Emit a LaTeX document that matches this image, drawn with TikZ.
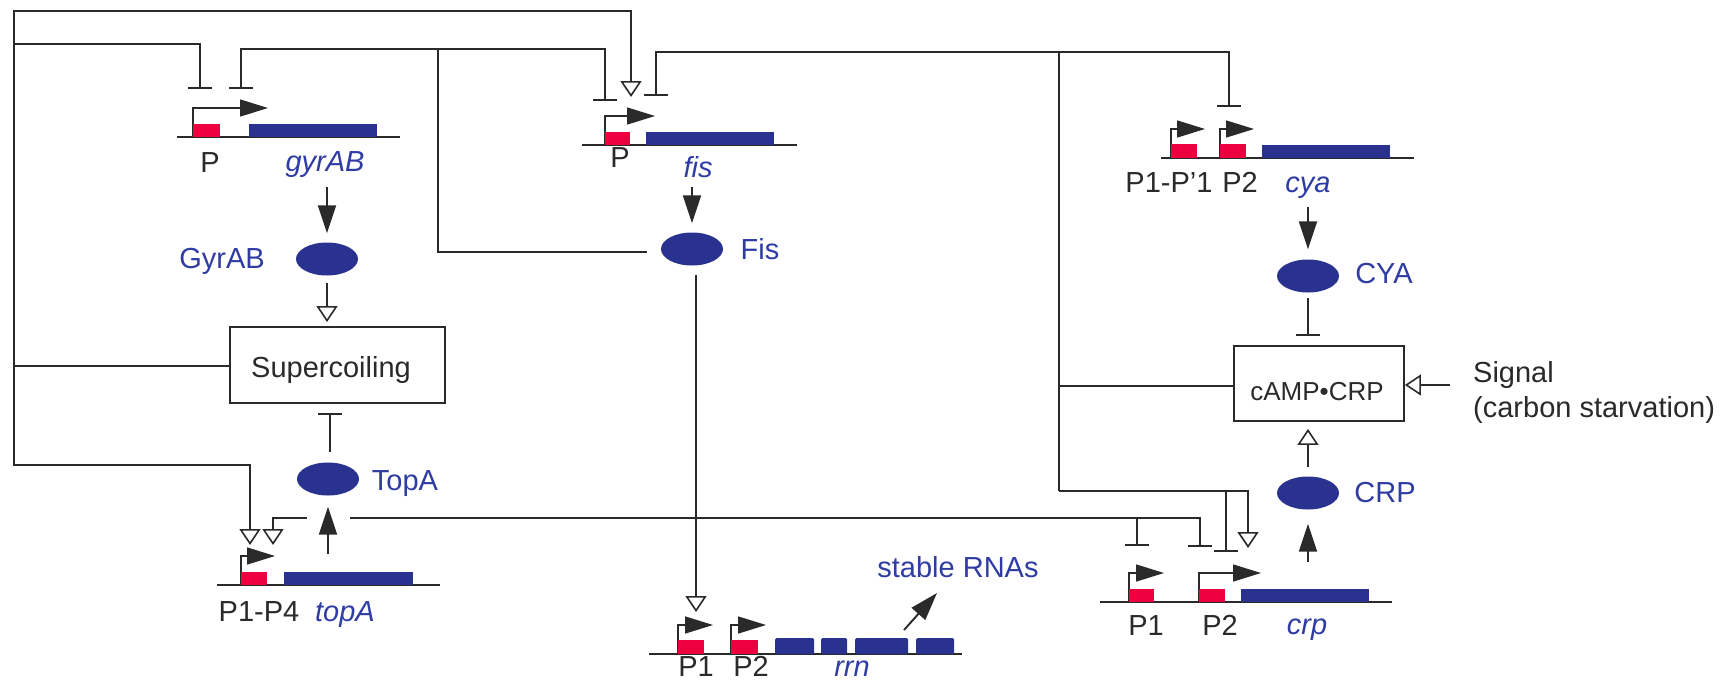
\documentclass[tikz,border=0pt]{standalone}
\usepackage{fontspec}
\setmainfont{Liberation Sans}
\usetikzlibrary{arrows.meta,shapes.geometric,calc}
\definecolor{navy}{HTML}{29328E}
\definecolor{pred}{HTML}{EC0040}
\definecolor{ink}{HTML}{2A2A2A}
\definecolor{tblue}{HTML}{2F3CA3}
\tikzset{
  wire/.style={draw=ink, line width=1.9pt},
  act/.style={wire, -{Triangle[open, length=16pt, width=21pt, line width=1.6pt]}},
  rep/.style={wire, -{Bar[width=24pt, line width=1.9pt]}},
  prod/.style={wire, -{Triangle[length=28pt, width=18pt]}},
  prom/.style={draw=ink, line width=1.5pt, -{Triangle[length=28pt, width=17pt]}},
  prot/.style={ellipse, fill=navy, minimum width=62pt, minimum height=33pt, inner sep=0pt},
  lab/.style={text=ink, font=\fontsize{29}{34}\selectfont, anchor=base, inner sep=0pt},
  plab/.style={lab, text=tblue},
  glab/.style={lab, text=tblue, font=\fontsize{29}{34}\selectfont\itshape},
  statebox/.style={draw=ink, line width=1.9pt, inner sep=0pt},
  dna/.style={draw=ink, line width=1.9pt},
}
\newcommand{\promo}[3]{\draw[prom] (#1,#2) |- (#3,#2-29);}
\begin{document}
\begin{tikzpicture}[x=1pt,y=-1pt]
\useasboundingbox (0,0) rectangle (1727,683);
\fill[white] (0,0) rectangle (1727,683);

% ---------- genes ----------
% gyrAB
\draw[dna] (177,137) -- (400,137);
\promo{193}{137}{268}
\fill[pred] (193,124) rectangle (220,137);
\fill[navy] (249,124) rectangle (377,137);
% fis
\draw[dna] (582,145) -- (797,145);
\promo{605}{145}{655}
\fill[pred] (605,132) rectangle (630,145);
\fill[navy] (646,132) rectangle (774,145);
% cya
\draw[dna] (1161,158) -- (1414,158);
\promo{1171}{158}{1205}
\promo{1220}{158}{1254}
\fill[pred] (1171,144) rectangle (1197,158);
\fill[pred] (1220,144) rectangle (1246,158);
\fill[navy] (1262,145) rectangle (1390,158);
% topA
\draw[dna] (217,585) -- (440,585);
\promo{241}{585}{275}
\fill[pred] (241,572) rectangle (267,585);
\fill[navy] (284,572) rectangle (413,585);
% crp
\draw[dna] (1100,602) -- (1392,602);
\promo{1129}{602}{1164}
\promo{1199}{602}{1261}
\fill[pred] (1129,589) rectangle (1154,602);
\fill[pred] (1199,589) rectangle (1225,602);
\fill[navy] (1241,589) rectangle (1369,602);
% rrn
\draw[dna] (649,654) -- (962,654);
\promo{678}{654}{713}
\promo{731}{654}{766}
\fill[pred] (678,640) rectangle (704,654);
\fill[pred] (731,640) rectangle (758,654);
\fill[navy, rounded corners=1.5pt] (775,638) rectangle (814,654);
\fill[navy, rounded corners=1.5pt] (821,638) rectangle (847,654);
\fill[navy, rounded corners=1.5pt] (855,638) rectangle (908,654);
\fill[navy, rounded corners=1.5pt] (916,638) rectangle (954,654);

% ---------- gene labels ----------
\node[lab] (gP) at (210,172) {P};
\node[glab] (gG) at (325,171) {gyrAB};
\node[lab] (fP) at (620,167) {P};
\node[glab] (fG) at (698,177) {fis};
\node[lab] (cP1) at (1169,192) {P1-P’1};
\node[lab] (cP2) at (1240,192) {P2};
\node[glab] (cG) at (1308,192) {cya};
\node[lab] (tP) at (259,621) {P1-P4};
\node[glab] (tG) at (345,621) {topA};
\node[lab] (crP1) at (1146,635) {P1};
\node[lab] (crP2) at (1220,635) {P2};
\node[glab] (crG) at (1307,634) {crp};
\node[lab] (rP1) at (696,676) {P1};
\node[lab] (rP2) at (751,676) {P2};
\node[glab] (rG) at (852,676) {rrn};

% ---------- proteins ----------
\node[prot] (gyr) at (327,259) {};
\node[prot] (fis) at (692,249) {};
\node[prot] (cya) at (1308,276) {};
\node[prot] (topa) at (328,479) {};
\node[prot] (crp) at (1308,493) {};
\node[plab] (gyrL) at (222,268) {GyrAB};
\node[plab] (fisL) at (760,259) {Fis};
\node[plab] (cyaL) at (1384,283) {CYA};
\node[plab] (topaL) at (405,490) {TopA};
\node[plab] (crpL) at (1385,502) {CRP};
\node[plab] (rna) at (958,577) {stable RNAs};

% ---------- state boxes ----------
\node[statebox, minimum width=215pt, minimum height=76pt] (sc) at (337.5,365) {};
\node[lab] (scT) at (331,377) {Supercoiling};
\node[statebox, minimum width=170pt, minimum height=75pt] (camp) at (1319,383.5) {};
\node[lab, font=\fontsize{26}{30}\selectfont] (campT) at (1317,400) {cAMP•CRP};
\node[lab, anchor=base west] (sigL) at (1473,382) {Signal};
\node[lab, anchor=base west] (sigL2) at (1473,417) {(carbon starvation)};

% ---------- target coordinates ----------
\coordinate (gyrR1) at (200,89);
\coordinate (gyrR2) at (241,89);
\coordinate (fisR1) at (605,101);
\coordinate (fisA) at (631,97);
\coordinate (fisR2) at (656,96);
\coordinate (cyaR) at (1229,107);
\coordinate (topA1) at (250,545);
\coordinate (topA2) at (273,545);
\coordinate (crpR1) at (1137,546);
\coordinate (crpR2) at (1200,547);
\coordinate (crpR3) at (1226,552);
\coordinate (crpA) at (1248,548);
\coordinate (rrnA) at (696,612);
\coordinate (scbus) at (14,366);
\coordinate (fisbus) at (438,49);
\coordinate (crpbus) at (1059,386);
\coordinate (sig) at (1450,385);
\coordinate (rnaS) at (904,630);
\coordinate (rnaT) at (937,593);

% ---------- supercoiling regulation ----------
\draw[wire] (sc.west |- scbus) -- (scbus);
\draw[act] (scbus) |- (fisA |- 0,11) -- (fisA);
\draw[rep] (scbus |- 0,44) -| (gyrR1);
\draw[act] (scbus) |- (topA1 |- 0,465) -- (topA1);

% ---------- Fis regulation ----------
\draw[wire] ($(fis.west)+(-14,3)$) -| (fisbus);
\draw[rep] (fisbus) -| (gyrR2);
\draw[rep] (fisbus) -| (fisR1);
\draw[act] ($(fis.south)+(4,9)$) -- (rrnA);
\draw[act] (topA2 |- 0,518) ++(34,0) -| (topA2);
\draw[rep] (350,518) -| (crpR2);
\draw[rep] (crpR1 |- 0,518) -- (crpR1);

% ---------- cAMP-CRP regulation ----------
\draw[wire] (camp.west |- crpbus) -- (crpbus);
\draw[rep] (crpbus |- 0,491) |- (fisR2 |- 0,52) -- (fisR2);
\draw[rep] (crpbus |- 0,52) -| (cyaR);
\draw[act] (crpbus |- 0,491) -| (crpA);
\draw[rep] (crpR3 |- 0,491) -- (crpR3);

% ---------- expression / activity ----------
\draw[prod] ($(gyr.north)+(0,-55)$) -- ($(gyr.north)+(0,-9)$);
\draw[act] ($(gyr.south)+(0,7)$) -- ($(sc.north -| gyr.south)+(0,-4)$);
\draw[prod] ($(fis.north)+(0,-45)$) -- ($(fis.north)+(0,-9)$);
\draw[prod] ($(cya.north)+(0,-52)$) -- ($(cya.north)+(0,-10)$);
\draw[rep] ($(cya.south)+(0,5)$) -- ($(camp.north -| cya.south)+(0,-9)$);
\draw[act] ($(crp.north)+(0,-9)$) -- ($(camp.south -| crp.north)+(0,7)$);
\draw[prod] ($(crp.south)+(0,52)$) -- ($(crp.south)+(0,14)$);
\draw[prod] ($(topa.south)+(0,58)$) -- ($(topa.south)+(0,11)$);
\draw[rep] ($(topa.north)+(2,-10)$) -- ($(sc.south -| topa.north)+(2,9)$);
\draw[act] (sig) -- (sig -| camp.east);
\draw[prod] (rnaS) -- (rnaT);
\end{tikzpicture}
\end{document}
